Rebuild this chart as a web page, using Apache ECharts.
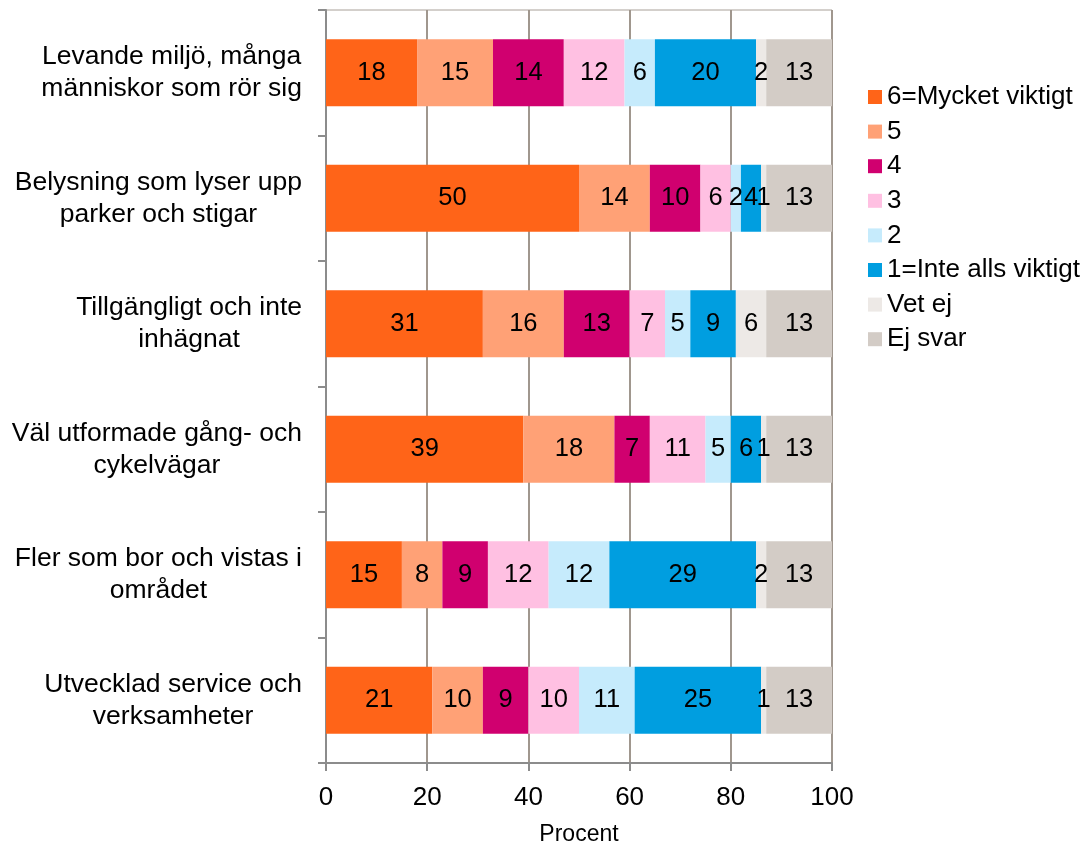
<!DOCTYPE html>
<html>
<head>
<meta charset="utf-8">
<script src="https://cdn.jsdelivr.net/npm/echarts@6/dist/echarts.min.js"></script>
<style>
  html, body { margin: 0; padding: 0; background: #fff; }
  #chart { width: 1089px; height: 846px; }
</style>
</head>
<body>
<div id="chart"></div>
<script>
// categories, top to bottom
var categories = [
  "Levande miljö, många\nmänniskor som rör sig",
  "Belysning som lyser upp\nparker och stigar",
  "Tillgängligt och inte\ninhägnat",
  "Väl utformade gång- och\ncykelvägar",
  "Fler som bor och vistas i\nområdet",
  "Utvecklad service och\nverksamheter"
];

var seriesNames = ["6=Mycket viktigt", "5", "4", "3", "2", "1=Inte alls viktigt", "Vet ej", "Ej svar"];
var seriesColors = ["#FF6418", "#FFA176", "#D0006F", "#FFC0E2", "#C6EBFC", "#009EE0", "#EDE9E6", "#D3CCC6"];

// percent per answer, same order as categories
var v6 = [18, 50, 31, 39, 15, 21];
var v5 = [15, 14, 16, 18, 8, 10];
var v4 = [14, 10, 13, 7, 9, 9];
var v3 = [12, 6, 7, 11, 12, 10];
var v2 = [6, 2, 5, 5, 12, 11];
var v1 = [20, 4, 9, 6, 29, 25];
var vetEj = [2, 1, 6, 1, 2, 1];
var ejSvar = [13, 13, 13, 13, 13, 13];

var xTicks = [0, 20, 40, 60, 80, 100];

var allValues = [v6, v5, v4, v3, v2, v1, vetEj, ejSvar];
var font = "Liberation Sans, Arial, sans-serif";

var dom = document.getElementById("chart");
var myChart = echarts.init(dom, null, { renderer: "canvas" });

var series = [];
for (var i = 0; i < seriesNames.length; i++) {
  series.push({
    name: seriesNames[i],
    type: "bar",
    stack: "total",
    barWidth: 67,
    itemStyle: { color: seriesColors[i] },
    label: {
      show: true,
      position: "inside",
      color: "#000",
      fontSize: 25.5,
      fontFamily: font,
      formatter: function (p) { return p.value > 0 ? p.value : ""; }
    },
    data: allValues[i]
  });
}

var option = {
  animation: false,
  backgroundColor: "#fff",
  textStyle: { fontFamily: font },
  grid: {
    left: 326, right: 257, top: 10, bottom: 83,
    outerBoundsMode: "none",
    containLabel: false,
    show: true, borderColor: "#A8A098", borderWidth: 1
  },
  legend: {
    orient: "vertical",
    left: 868,
    top: 84,
    padding: 0,
    itemWidth: 14,
    itemHeight: 14,
    itemGap: 8.6,
    icon: "rect",
    textStyle: { fontSize: 26, lineHeight: 26, color: "#000", fontFamily: font },
    data: seriesNames
  },
  xAxis: {
    type: "value",
    min: xTicks[0],
    max: xTicks[xTicks.length - 1],
    interval: 20,
    name: "Procent",
    nameLocation: "middle",
    nameGap: 60,
    nameTextStyle: { fontSize: 23, color: "#000", fontFamily: font },
    axisLine: { show: true, lineStyle: { color: "#8C8C8C", width: 2 } },
    axisTick: { show: true, length: 8, lineStyle: { color: "#8C8C8C", width: 2 } },
    axisLabel: { fontSize: 26, color: "#000", margin: 22, fontFamily: font },
    splitLine: { show: true, lineStyle: { color: "#A0978E", width: 2 } }
  },
  yAxis: {
    type: "category",
    inverse: true,
    data: categories,
    axisLine: { show: true, lineStyle: { color: "#8C8C8C", width: 2 } },
    axisTick: { show: true, length: 8, lineStyle: { color: "#8C8C8C", width: 2 } },
    axisLabel: {
      margin: 24,
      formatter: function (val) {
        return val.split("\n").map(function (s) { return "{c|" + s + "}"; }).join("\n");
      },
      rich: {
        c: { align: "center", fontSize: 26.5, lineHeight: 32, color: "#000", fontFamily: font }
      }
    }
  },
  series: series
};

myChart.setOption(option);
window.addEventListener("resize", myChart.resize);
</script>
</body>
</html>
